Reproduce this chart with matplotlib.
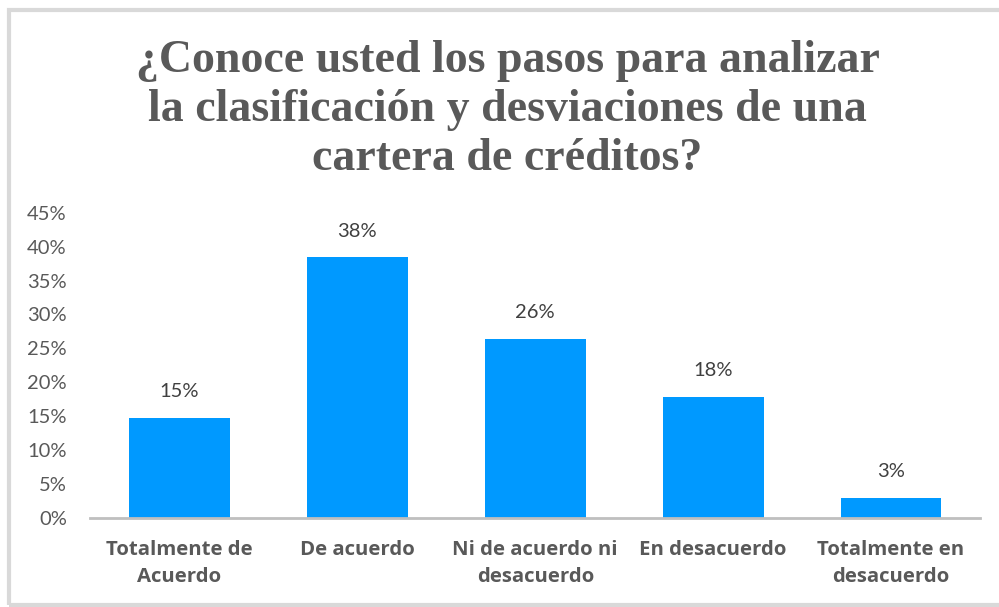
import matplotlib
matplotlib.use("Agg")
import matplotlib.pyplot as plt
from matplotlib.patches import Rectangle

title = "¿Conoce usted los pasos para analizar\nla clasificación y desviaciones de una\ncartera de créditos?"
categories = ["Totalmente de\nAcuerdo", "De acuerdo", "Ni de acuerdo ni\ndesacuerdo",
              "En desacuerdo", "Totalmente en\ndesacuerdo"]
values = [0.148, 0.384, 0.264, 0.178, 0.030]
yticks = [0, 0.05, 0.10, 0.15, 0.20, 0.25, 0.30, 0.35, 0.40, 0.45]

fig = plt.figure(figsize=(9.99, 6.07), dpi=100)
fig.patch.set_facecolor("white")

# outer frame
fig.add_artist(Rectangle((9/999, 1 - 605/607), 1.2, (605 - 10) / 607,
                         transform=fig.transFigure, fill=False,
                         edgecolor="#d9d9d9", linewidth=3))

ax = fig.add_axes([90.5/999, 1 - 518/607, (980 - 90.5)/999, (518 - 212.7)/607])
x = range(len(categories))
bars = ax.bar(x, values, width=0.567, color="#0099FF", zorder=2)
ax.set_xlim(-0.5, len(categories) - 0.5)
ax.set_ylim(0, 0.45)
ax.set_yticks(yticks)
ax.set_yticklabels([f"{round(v*100)}%" for v in yticks], fontfamily="Lato",
                   fontsize=14.5, color="#595959")
ax.tick_params(axis="y", length=0, pad=17)
ax.set_xticks(list(x))
ax.set_xticklabels(categories, fontfamily="Open Sans", fontweight="bold",
                   fontsize=14.7, color="#595959", linespacing=1.45)
ax.tick_params(axis="x", length=0, pad=16)
for s in ["top", "right", "left"]:
    ax.spines[s].set_visible(False)
ax.spines["bottom"].set_color("#bfbfbf")
ax.spines["bottom"].set_linewidth(2)

for xi, v in zip(x, values):
    ax.annotate(f"{round(v*100)}%", (xi, v), xytext=(0, 19), textcoords="offset points",
                ha="center", va="center", fontfamily="Lato", fontsize=14.5, color="#404040")

fig.text(0.508, 1 - 110/607, title, ha="center", va="center",
         fontfamily="Liberation Serif", fontweight="bold", fontsize=33,
         color="#595959", linespacing=1.22)

fig.savefig("out.png", dpi=100)
